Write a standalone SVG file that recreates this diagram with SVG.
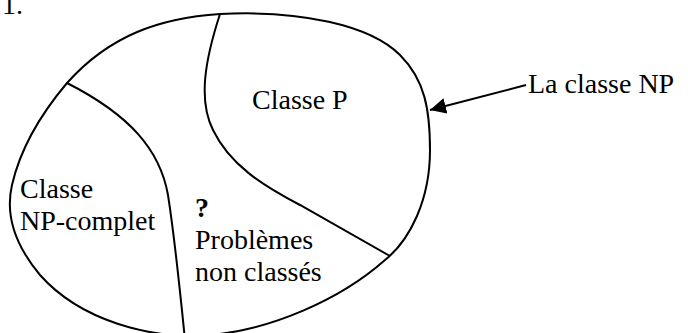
<svg xmlns="http://www.w3.org/2000/svg" width="688" height="333" viewBox="0 0 688 333">
<style>
.ln{fill:none;stroke:#000;stroke-width:2}
.t{font-family:"Liberation Serif","Times New Roman",serif;font-size:28px;fill:#000}
.b{font-weight:bold}
</style>
<defs>
<marker id="ah" markerWidth="8" markerHeight="8" refX="8" refY="4" orient="auto" markerUnits="strokeWidth">
<path d="M0,0 L8,4 L0,8 Z" fill="#000"/>
</marker>
</defs>
<rect width="688" height="333" fill="#fff"/>
<text class="t" x="2" y="14">1.</text>
<g id="np">
<path class="ln" d="M220,14 C300,10 370,25 400,55 C425,80 430,110 430,150 C430,200 410,240 385,260 C340,300 270,330 210,335 C150,340 80,320 40,275 C15,245 5,215 12,185 C20,150 40,115 67,83 C110,35 160,18 220,14 Z"/>
</g>
<g id="p">
<path class="ln" d="M220,14 C205,60 198,100 213,130 C230,165 262,185 300,205 L390,256"/>
<text class="t" x="252" y="109">Classe P</text>
</g>
<g id="npc">
<path class="ln" d="M67,83 C130,115 160,150 168,195 C175,240 180,290 185,340"/>
<text class="t" x="20" y="198">Classe</text>
<text class="t" x="20" y="230">NP-complet</text>
</g>
<g id="nc">
<text class="t b" x="195" y="217">?</text>
<text class="t" x="195" y="249">Problèmes</text>
<text class="t" x="195" y="281">non classés</text>
</g>
<g id="label">
<text class="t" x="528" y="93">La classe NP</text>
</g>
<g id="connectors">
<line class="ln" x1="526" y1="85" x2="430" y2="110" marker-end="url(#ah)"/>
</g>
</svg>
